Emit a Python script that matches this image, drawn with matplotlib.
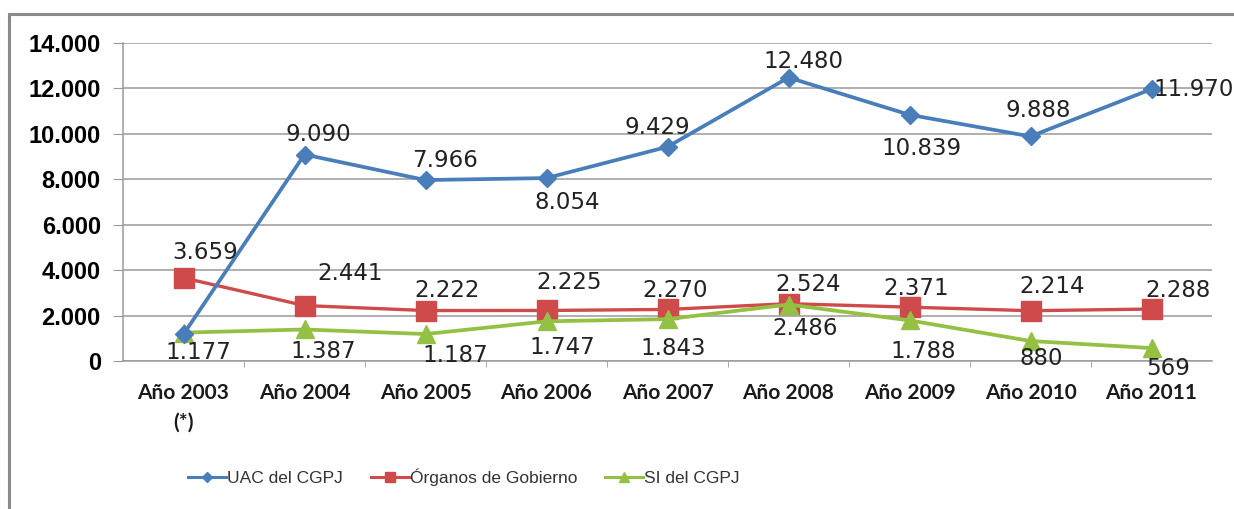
import matplotlib.pyplot as plt
from matplotlib.lines import Line2D
from matplotlib.ticker import FuncFormatter, FixedLocator
import numpy as np

# data
years = ["Año 2003\n(*)", "Año 2004", "Año 2005", "Año 2006", "Año 2007",
         "Año 2008", "Año 2009", "Año 2010", "Año 2011"]
uac = [1177, 9090, 7966, 8054, 9429, 12480, 10839, 9888, 11970]
organos = [3659, 2441, 2222, 2225, 2270, 2524, 2371, 2214, 2288]
si = [1250, 1387, 1187, 1747, 1843, 2486, 1788, 880, 569]
si_shown = [False, True, True, True, True, True, True, True, True]

# label offsets in pixels (dx, dy)
uac_off = [(15, -18), (14, 20), (20, 20), (21, -24), (-10, 19),
           (15, 16), (12, -34), (8, 26), (42, 0)]
org_off = [(22, 25), (46, 32), (22, 20), (23, 28), (8, 19),
           (20, 19), (7, 19), (22, 24), (27, 19)]
si_off = [(0, 0), (19, -22), (30, -21), (16, -26), (6, -29),
          (17, -24), (14, -31), (11, -17), (17, -20)]

blue = "#4a7ebb"
red = "#cf4a4a"
green = "#94c043"


def fmt(v):
    return f"{v:,.0f}".replace(",", ".")


fig = plt.figure(figsize=(12.34, 5.09), dpi=100)
ax = fig.add_axes([123 / 1234, 1 - 361 / 509, (1212 - 123) / 1234, (361 - 43) / 509])

x = np.arange(len(years))
ax.plot(x, uac, color=blue, lw=2.7, marker="D", ms=9.5, zorder=4)
ax.plot(x, organos, color=red, lw=2.4, marker="s", ms=14, zorder=3)
ax.plot(x, si, color=green, lw=2.7, marker="^", ms=13, zorder=3)

lab_kw = dict(textcoords="offset pixels", ha="center", va="center",
              fontsize=16.5, color="#222222", family="DejaVu Sans", zorder=6)
for i in range(len(x)):
    ax.annotate(fmt(uac[i]), (x[i], uac[i]), xytext=uac_off[i], **lab_kw)
    ax.annotate(fmt(organos[i]), (x[i], organos[i]), xytext=org_off[i], **lab_kw)
    if si_shown[i]:
        ax.annotate(fmt(si[i]), (x[i], si[i]), xytext=si_off[i], **lab_kw)

ax.set_xlim(-0.5, len(years) - 0.5)
ax.set_ylim(0, 14000)
ax.set_yticks(np.arange(0, 14001, 2000))
ax.yaxis.set_major_formatter(FuncFormatter(lambda v, p: fmt(v)))
ax.grid(axis="y", color="#9a9a9a", lw=1.1)
ax.set_axisbelow(True)

ax.set_xticks(x)
ax.set_xticklabels(years, fontsize=15, fontweight="bold", family="Lato",
                   linespacing=1.6, color="#1a1a1a")
ax.xaxis.set_minor_locator(FixedLocator(np.arange(0.5, len(years) - 1, 1)))
ax.tick_params(axis="x", which="major", length=0, pad=16)
ax.tick_params(axis="x", which="minor", length=4, color="#9a9a9a")
ax.tick_params(axis="y", length=7, color="#9a9a9a", pad=9)
for t in ax.get_yticklabels():
    t.set_fontsize(17)
    t.set_fontweight("bold")
    t.set_family("Liberation Sans")

for s in ["top", "right"]:
    ax.spines[s].set_visible(False)
for s in ["left", "bottom"]:
    ax.spines[s].set_color("#9a9a9a")
    ax.spines[s].set_linewidth(1.1)

# outer chart frame
fig.add_artist(Line2D([9 / 1234, 9 / 1234], [0, 1 - 14 / 509], color="#8a8a8a", lw=2.2))
fig.add_artist(Line2D([9 / 1234, 1], [1 - 14 / 509, 1 - 14 / 509], color="#8a8a8a", lw=2.2))

handles = [
    Line2D([], [], color=blue, lw=2.2, marker="D", ms=5),
    Line2D([], [], color=red, lw=2.2, marker="s", ms=7),
    Line2D([], [], color=green, lw=2.2, marker="^", ms=7),
]
names = ["UAC del CGPJ", "Órganos de Gobierno", "SI del CGPJ"]
fig.legend(handles, names, loc="center", bbox_to_anchor=(464 / 1234, 1 - 477 / 509),
           ncol=3, frameon=False, handlelength=2.2, handletextpad=0.05,
           columnspacing=1.6, prop={"family": "Liberation Sans", "size": 12.5},
           labelcolor="#333333")

fig.savefig("out.png", dpi=100)
